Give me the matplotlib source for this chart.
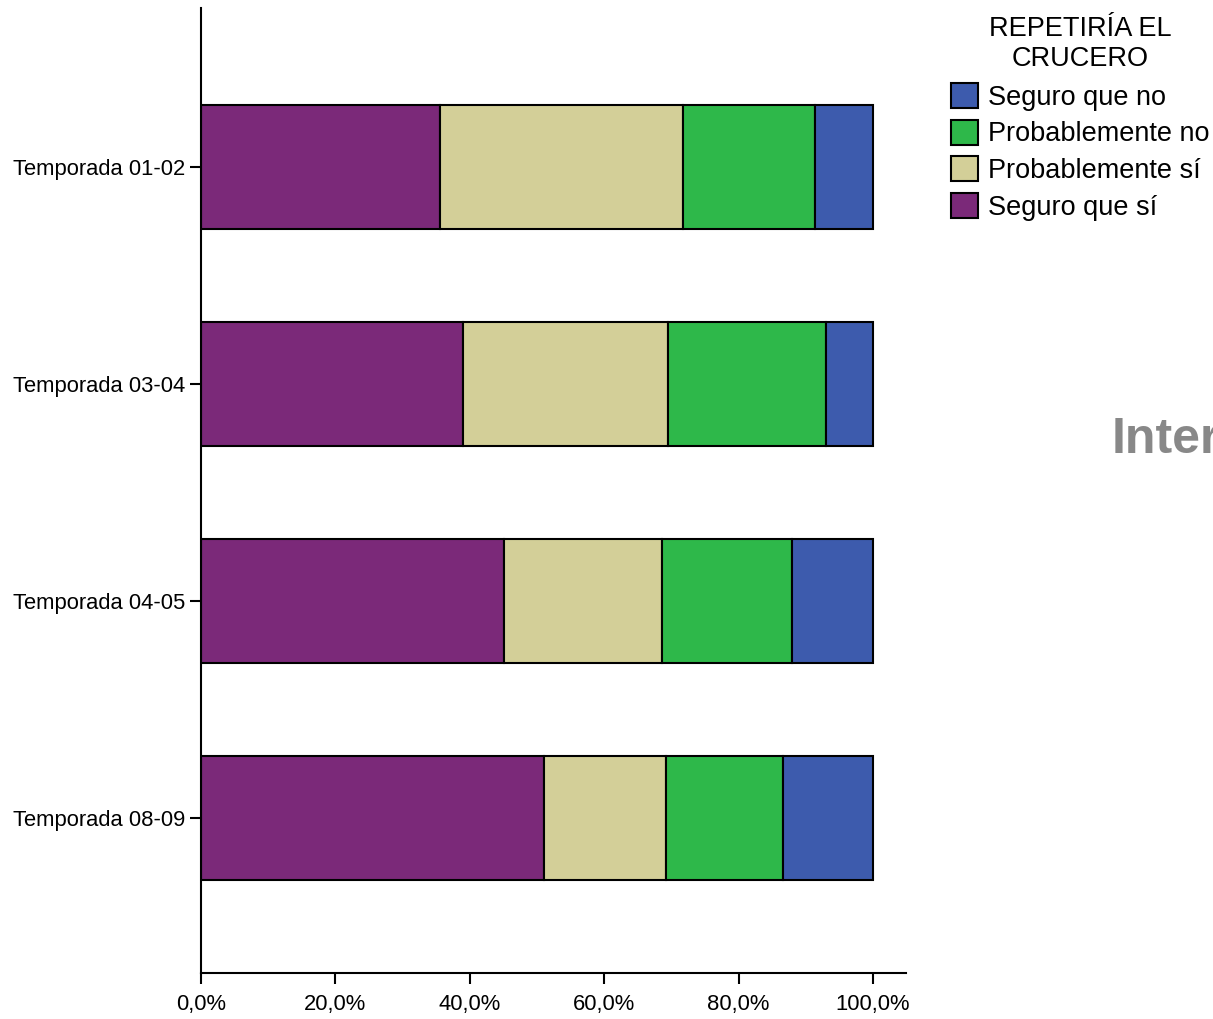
import matplotlib
matplotlib.use("Agg")
import matplotlib.pyplot as plt
from matplotlib.patches import Patch
from matplotlib.ticker import FuncFormatter

plt.rcParams['font.family'] = ['Liberation Sans', 'DejaVu Sans']

categories = ["Temporada 01-02", "Temporada 03-04", "Temporada 04-05", "Temporada 08-09"]
seguro_si = [35.6, 39.0, 45.1, 51.0]
prob_si = [36.1, 30.5, 23.5, 18.2]
prob_no = [19.7, 23.5, 19.3, 17.4]
seguro_no = [8.6, 7.0, 12.1, 13.4]

series_names = ["Seguro que sí", "Probablemente sí", "Probablemente no", "Seguro que no"]
series_vals = [seguro_si, prob_si, prob_no, seguro_no]
colors = ["#7B2979", "#D3CF98", "#2EB84A", "#3D5BAD"]
xticks = [0, 20, 40, 60, 80, 100]

fig = plt.figure(figsize=(12.13, 10.19), dpi=100)
ax = fig.add_axes([201/1213, 46/1019, (906-201)/1213, (973-8)/1019])

ypos = list(range(len(categories)))
left = [0.0]*len(categories)
for name, vals, c in zip(series_names, series_vals, colors):
    ax.barh(ypos, vals, left=left, height=0.571, color=c, edgecolor="black", linewidth=1.5, label=name)
    left = [l + v for l, v in zip(left, vals)]

ax.set_ylim(3.714, -0.733)
ax.set_xlim(0, 104.9)
ax.set_yticks(ypos)
ax.set_yticklabels(categories, fontsize=15.8)
ax.set_xticks(xticks)
ax.xaxis.set_major_formatter(FuncFormatter(lambda v, p: f"{v:.1f}%".replace(".", ",")))
ax.tick_params(axis='x', labelsize=15.8, length=8, width=1.5, pad=7)
ax.tick_params(axis='y', length=8, width=1.5, pad=3)
for s in ["top", "right"]:
    ax.spines[s].set_visible(False)
for s in ["left", "bottom"]:
    ax.spines[s].set_linewidth(1.5)

handles = [Patch(facecolor=c, edgecolor="black", linewidth=1.5) for c in colors][::-1]
labels = series_names[::-1]
leg = fig.legend(handles, labels, title="REPETIRÍA EL\nCRUCERO", loc="upper left",
                 bbox_to_anchor=(951/1213, 1 - 16/1019), frameon=False, fontsize=19.5,
                 title_fontsize=19.5, handlelength=1.0, handleheight=1.04,
                 labelspacing=0.33, handletextpad=0.38, borderpad=0, borderaxespad=0)
leg.get_title().set_multialignment('center')
leg._legend_box.sep = 8

fig.text(1112/1213, 1 - 440/1019, "Inter", fontsize=36, fontweight="bold", color="#888888",
         ha="left", va="center")

fig.savefig("out.png", dpi=100)
